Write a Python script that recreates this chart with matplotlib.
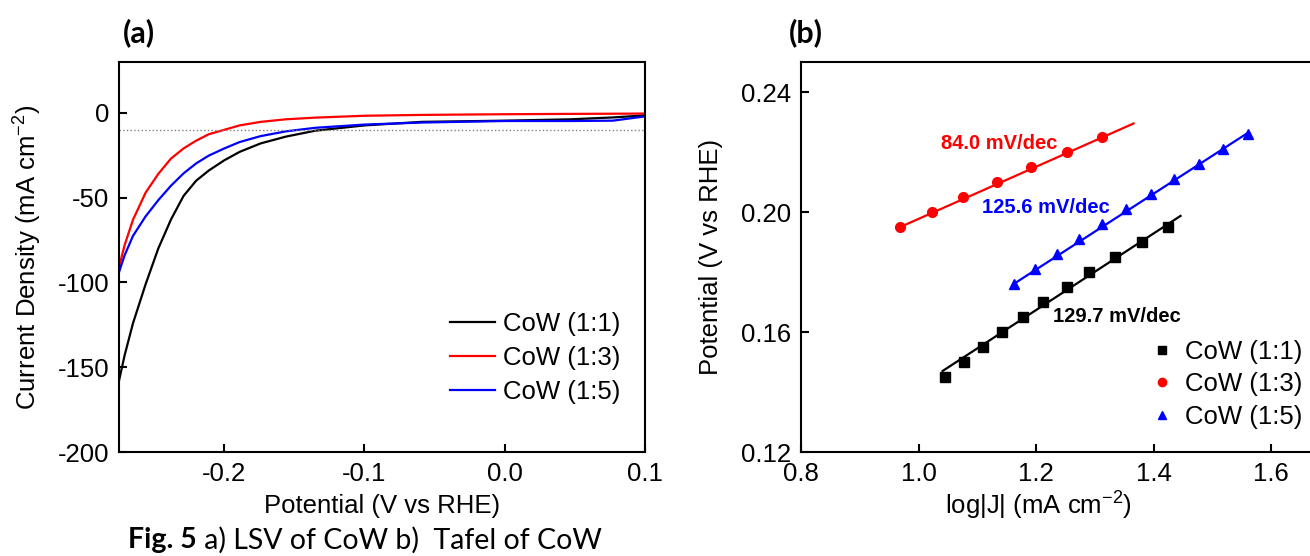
import matplotlib
matplotlib.use('Agg')
import matplotlib.pyplot as plt

plt.rcParams['font.family'] = ['Liberation Sans', 'DejaVu Sans']
plt.rcParams['axes.unicode_minus'] = False
plt.rcParams['mathtext.default'] = 'regular'

# (a) LSV curves
potential = [-0.275, -0.271, -0.265, -0.256, -0.247, -0.238, -0.229, -0.220, -0.211, -0.200,
             -0.189, -0.174, -0.156, -0.135, -0.100, -0.059, 0.0, 0.047, 0.077, 0.100]
j_11 = [-158, -143, -124, -101, -80, -63, -49, -40, -34, -28,
        -23, -18, -14, -10.5, -7.4, -5.3, -4.6, -3.8, -2.7, -1.5]
j_13 = [-91, -78, -63, -47, -36, -27, -21, -16.4, -12.6, -10,
        -7.4, -5.3, -3.8, -2.8, -1.7, -1.2, -0.8, -0.6, -0.5, -0.4]
j_15 = [-94, -84, -72.5, -61, -51.5, -43, -35.7, -29.8, -25.2, -21,
        -17.2, -13.7, -10.9, -8.8, -6.9, -5.7, -4.8, -4.8, -4.6, -2.1]
ref_j = -10

# (b) Tafel points and fitted lines
logj_11 = [1.045, 1.078, 1.110, 1.142, 1.178, 1.212, 1.252, 1.291, 1.334, 1.380, 1.424]
eta_11 = [0.145, 0.150, 0.155, 0.160, 0.165, 0.170, 0.175, 0.180, 0.185, 0.190, 0.195]
logj_13 = [0.969, 1.023, 1.076, 1.133, 1.192, 1.253, 1.313]
eta_13 = [0.195, 0.200, 0.205, 0.210, 0.215, 0.220, 0.225]
logj_15 = [1.162, 1.198, 1.235, 1.273, 1.313, 1.354, 1.395, 1.435, 1.477, 1.518, 1.560]
eta_15 = [0.176, 0.181, 0.186, 0.191, 0.196, 0.201, 0.206, 0.211, 0.216, 0.221, 0.226]
fit_11 = ([1.041, 1.446], [0.1470, 0.1987])
fit_13 = ([0.969, 1.366], [0.1950, 0.2295])
fit_15 = ([1.162, 1.560], [0.1760, 0.2263])
slopes = ['129.7 mV/dec', '84.0 mV/dec', '125.6 mV/dec']

labels = ['CoW (1:1)', 'CoW (1:3)', 'CoW (1:5)']
colors = ['black', 'red', 'blue']

fs = 18.5
fig = plt.figure(figsize=(13.1, 5.56), dpi=100)
ax1 = fig.add_axes([119/1310, 104/556, 526/1310, 390/556])
ax2 = fig.add_axes([801/1310, 104/556, 587.5/1310, 390/556])

# --- panel (a)
for j, lab, c in zip([j_11, j_13, j_15], labels, colors):
    ax1.plot(potential, j, color=c, lw=1.6, label=lab)
ax1.axhline(ref_j, color='gray', ls=':', lw=1.0)
ax1.set_xlim(-0.275, 0.1)
ax1.set_ylim(-200, 30)
ax1.set_xticks([-0.2, -0.1, 0.0, 0.1])
ax1.set_yticks([-200, -150, -100, -50, 0])
ax1.set_xlabel('Potential (V vs RHE)', fontsize=fs, labelpad=6)
ax1.set_ylabel('Current Density (mA cm$^{-2}$)', fontsize=fs, labelpad=10)
ax1.legend(loc='upper left', bbox_to_anchor=(450/1310, 1-312/556),
           bbox_transform=fig.transFigure, frameon=False, fontsize=fs,
           handlelength=1.75, handletextpad=0.3, labelspacing=0.38,
           borderpad=0, borderaxespad=0)

# --- panel (b)
ax2.plot(logj_11, eta_11, 's', color='black', ms=6.5, label=labels[0])
ax2.plot(logj_13, eta_13, 'o', color='red', ms=7, label=labels[1])
ax2.plot(logj_15, eta_15, '^', color='blue', ms=7.5, label=labels[2])
for (fx, fy), c in zip([fit_11, fit_13, fit_15], colors):
    ax2.plot(fx, fy, color=c, lw=1.6)
ax2.text(1.229, 0.1650, slopes[0], color='black', fontsize=14.5, fontweight='bold', va='center')
ax2.text(1.039, 0.2227, slopes[1], color='red', fontsize=14.5, fontweight='bold', va='center')
ax2.text(1.108, 0.2016, slopes[2], color='blue', fontsize=14.5, fontweight='bold', va='center')
ax2.set_xlim(0.8, 1.8)
ax2.set_ylim(0.12, 0.25)
ax2.set_xticks([0.8, 1.0, 1.2, 1.4, 1.6])
ax2.set_yticks([0.12, 0.16, 0.20, 0.24])
ax2.set_xlabel('log|J| (mA cm$^{-2}$)', fontsize=fs)
ax2.xaxis.set_label_coords(0.405, -0.097)
ax2.set_ylabel('Potential (V vs RHE)', fontsize=fs, labelpad=13)
ax2.legend(loc='upper left', bbox_to_anchor=(1149/1310, 1-340/556),
           bbox_transform=fig.transFigure, frameon=False, fontsize=fs,
           handlelength=1.0, handletextpad=0.4, labelspacing=0.33,
           borderpad=0, borderaxespad=0, markerscale=0.85)

for ax in (ax1, ax2):
    for s in ax.spines.values():
        s.set_linewidth(1.5)
    ax.tick_params(direction='in', length=6, width=1.5, labelsize=fs, pad=7)

# panel tags and caption
fig.text(123/1310, 1-33/556, '(a)', fontsize=22, fontweight='bold', family='Lato', va='center')
fig.text(789/1310, 1-33/556, '(b)', fontsize=22, fontweight='bold', family='Lato', va='center')
cap = fig.text(128/1310, 1-540/556, 'Fig. 5', fontsize=20.5, fontweight='bold', family='Lato', va='center')
fig.canvas.draw()
bb = cap.get_window_extent()
fig.text(bb.x1/1310, 1-540/556, ' a) LSV of CoW b)  Tafel of CoW', fontsize=20.5, family='Lato', va='center')

fig.savefig('out.png', dpi=100)
